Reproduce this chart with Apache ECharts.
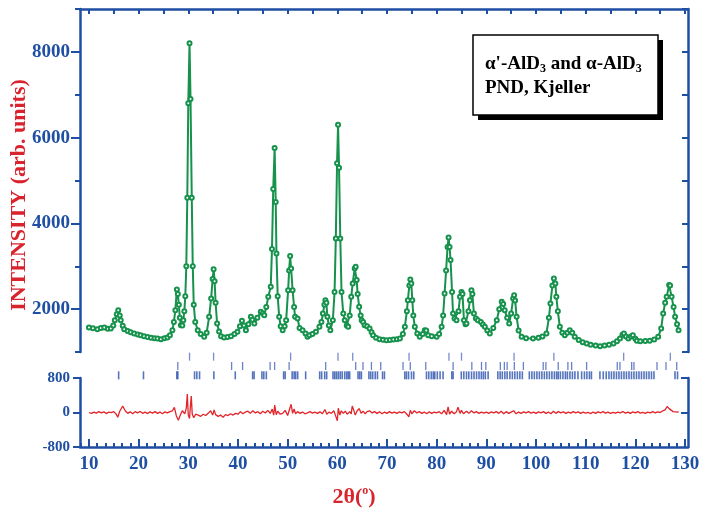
<!DOCTYPE html>
<html><head><meta charset="utf-8">
<script src="https://cdn.jsdelivr.net/npm/echarts@6/dist/echarts.min.js"></script>
<style>html,body{margin:0;padding:0;background:#fff}#c{width:706px;height:516px}</style>
</head><body><div id="c"></div>
<script>
// ---------- data ----------
const obsTheta = [10.0,10.8,11.7,12.4,13.1,13.8,14.4,14.9,15.2,15.6,15.9,16.2,16.4,16.8,17.1,17.8,18.4,19.1,19.8,20.4,21.1,21.8,22.5,23.2,23.8,24.5,25.2,25.8,26.3,26.8,27.1,27.4,27.7,27.9,28.1,28.3,28.5,28.8,29.0,29.2,29.4,29.6,29.8,30.0,30.25,30.45,30.7,30.9,31.1,31.4,31.9,32.5,33.2,33.7,34.2,34.6,34.9,35.1,35.3,35.5,35.8,36.2,36.6,37.2,37.9,38.6,39.3,39.9,40.4,40.8,41.2,41.6,42.1,42.6,42.9,43.3,43.9,44.6,45.0,45.3,45.7,46.1,46.6,46.85,47.1,47.38,47.6,47.75,48.0,48.3,48.6,49.0,49.4,49.7,50.1,50.3,50.5,50.7,51.0,51.3,51.5,52.0,52.4,53.0,53.6,54.0,54.4,55.0,55.7,56.4,56.8,57.1,57.4,57.6,57.8,58.0,58.3,58.6,59.1,59.45,59.7,59.95,60.15,60.35,60.6,60.85,61.2,61.5,61.9,62.2,62.5,62.8,63.1,63.5,63.7,63.9,64.1,64.4,64.7,64.9,65.2,65.5,66.0,66.5,66.9,67.2,67.8,68.5,69.2,69.9,70.6,71.3,72.0,72.6,73.2,73.6,74.0,74.2,74.5,74.7,74.9,75.1,75.3,75.6,76.1,76.6,77.2,77.6,77.9,78.3,79.0,80.0,80.5,81.0,81.3,81.6,81.9,82.2,82.4,82.6,82.8,83.1,83.3,83.6,84.0,84.4,84.7,85.0,85.2,85.5,85.8,86.0,86.4,86.7,87.0,87.2,87.5,87.9,88.3,88.9,89.3,89.7,90.2,90.7,91.4,92.1,92.6,93.1,93.4,93.7,94.2,94.6,95.0,95.4,95.6,95.8,96.1,96.5,97.1,98.0,99.4,100.5,101.3,102.1,102.6,102.9,103.3,103.6,103.9,104.1,104.4,104.8,105.3,105.8,106.3,106.8,107.3,107.8,108.6,109.4,110.2,111.0,112.0,112.9,113.8,114.7,115.6,116.3,116.9,117.4,117.7,118.1,118.6,119.1,119.5,120.0,120.3,121.0,122.0,122.9,123.8,124.6,125.2,125.6,126.0,126.3,126.8,127.0,127.3,127.7,128.0,128.4,128.7];
const obsCounts = [1572,1555,1532,1560,1572,1545,1548,1620,1742,1880,1976,1850,1742,1610,1532,1490,1460,1432,1410,1390,1369,1350,1335,1320,1315,1300,1320,1338,1390,1509,1700,1976,2459,2350,2100,1800,1626,1620,1742,1950,2300,3000,4600,6800,8200,6900,4600,3000,2100,1700,1509,1420,1353,1450,1820,2250,2700,2930,2650,2150,1665,1480,1369,1340,1350,1369,1420,1470,1600,1726,1620,1509,1650,1820,1750,1665,1800,1936,1900,1858,2050,2287,2520,3400,4800,5760,4500,3300,2300,1820,1600,1509,1600,1742,2443,2900,3237,2950,2443,2050,1820,1781,1560,1509,1430,1353,1392,1420,1470,1587,1700,1898,2100,2209,2150,1820,1620,1509,1742,2400,3650,5400,6300,5300,3650,2400,1900,1742,1620,1587,1850,2287,2600,2950,2990,2680,2350,2053,1850,1742,1700,1626,1600,1548,1460,1392,1330,1300,1285,1276,1280,1290,1300,1315,1420,1587,1950,2209,2550,2692,2600,2209,1850,1587,1430,1353,1420,1509,1500,1392,1370,1353,1420,1587,1850,2365,2900,3450,3670,3450,3143,2400,1898,1780,1742,1950,2287,2400,2350,1742,1650,1665,1950,2209,2443,2350,1898,1780,1742,1700,1640,1587,1500,1432,1560,1742,2000,2170,2120,1976,1800,1665,1900,2248,2326,2200,1820,1500,1353,1320,1315,1330,1360,1432,1800,2132,2550,2716,2600,2287,1950,1587,1450,1392,1450,1509,1450,1353,1280,1230,1198,1170,1150,1135,1150,1170,1198,1250,1315,1400,1432,1360,1315,1360,1392,1310,1260,1250,1255,1260,1290,1353,1550,1898,2150,2287,2560,2550,2287,2050,1820,1650,1509];

const diffTheta = [10,10.5,11,11.5,12,12.5,13,13.5,14,14.5,15,15.5,15.8,16.2,16.8,17.3,17.8,18.3,18.8,19.3,19.8,20.3,20.8,21.3,21.8,22.3,22.8,23.3,23.8,24.3,24.8,25.3,25.8,26.3,26.8,27.2,27.6,28.0,28.4,28.8,29.3,29.6,29.8,30.0,30.25,30.45,30.6,30.8,31.1,31.5,32.0,32.5,33.0,33.5,34.0,34.5,34.9,35.2,35.5,36.0,36.5,37.0,37.5,38.0,38.5,39.0,39.5,40.0,40.5,41.0,41.5,42.0,42.5,43.0,43.5,44.0,44.5,45.0,45.5,46.0,46.5,46.9,47.2,47.4,47.7,48.0,48.5,49.0,49.5,50.0,50.4,50.7,51.0,51.3,51.6,52.0,52.5,53.0,53.5,54.0,54.5,55.0,55.5,56.0,56.5,57.0,57.5,57.9,58.3,58.8,59.3,59.7,60.0,60.2,60.5,60.8,61.2,61.6,62.0,62.5,62.8,63.0,63.3,63.6,64.0,64.4,64.8,65.2,65.6,66.0,66.5,67.0,67.5,68.0,68.5,69.0,69.5,70.0,70.5,71.0,71.5,72.0,72.5,73.0,73.5,74.0,74.4,74.7,75.0,75.5,76.0,76.5,77.0,77.5,78.0,78.5,79.0,79.5,80.0,80.5,81.0,81.5,82.0,82.3,82.6,83.0,83.5,84.0,84.3,84.7,85.0,85.4,86.0,86.5,87.0,87.5,88.0,88.5,89.0,89.5,90.0,90.5,91.0,91.5,92.0,92.5,93.0,93.5,94.0,94.5,95.0,95.5,96.0,96.5,97.0,97.5,98.0,98.5,99.0,99.5,100.0,100.5,101.0,101.5,102.0,102.5,103.0,103.5,104.0,104.5,105.0,105.5,106.0,106.5,107.0,107.5,108.0,108.5,109.0,109.5,110.0,110.5,111.0,111.5,112.0,112.5,113.0,113.5,114.0,114.5,115.0,115.5,116.0,116.5,117.0,117.5,118.0,118.5,119.0,119.5,120.0,120.5,121.0,121.5,122.0,122.5,123.0,123.5,124.0,124.5,125.0,125.5,126.0,126.4,126.8,127.2,127.6,128.0,128.5,128.7];
const diffCounts = [0,-20,10,-15,20,-10,15,-25,10,-5,20,-40,-110,30,150,40,-20,15,-30,20,-10,25,-20,10,-25,15,-15,20,-20,10,-30,15,-10,20,40,120,-80,-180,-60,40,-30,100,430,-60,-140,180,380,-40,-120,-40,-60,-90,-40,-70,-20,40,-60,60,-50,-90,-60,-110,-50,-70,-30,-60,-20,-40,20,-30,10,30,-20,40,-10,20,-30,30,-10,50,-20,80,-60,170,-50,30,-40,-20,50,-70,-30,190,-20,80,-30,20,-20,10,-30,-10,20,-15,10,-20,15,-30,70,-40,10,-20,40,-90,-190,100,-60,40,-20,30,-40,20,-30,150,60,-60,40,90,-20,30,-30,20,40,-10,20,-20,15,-30,10,-20,20,-15,10,-20,15,-10,20,-40,-100,50,-30,40,-10,20,-20,10,-30,15,-20,10,-10,20,-30,50,-50,130,-40,30,-30,20,120,-20,50,-30,30,-20,40,-10,20,-20,10,-15,10,-20,15,-10,20,-20,30,-30,20,-20,10,40,-30,10,-20,15,-10,20,-15,10,-20,15,-10,20,-20,10,-30,30,-20,20,-10,15,-20,10,-15,20,-10,15,-20,10,-15,5,-25,10,-20,15,-10,20,-15,10,-20,5,-15,10,-10,25,-15,10,-20,15,-10,20,-15,5,-20,10,-10,20,-10,15,0,40,60,140,90,130,20,40,10,20];

const braggRow1 = [30.25,35.09,50.6,60.14,63.1,74.44,82.48,85.0,95.58,103.6,117.65,127.04];
const braggRow2 = [27.89,38.72,40.93,46.47,47.38,50.30,57.66,63.70,65.17,66.87,68.74,73.23,74.69,77.81,83.31,87.08,89.03,89.90,92.82,93.63,94.19,95.64,97.46,101.45,101.99,104.47,106.42,107.17,110.19,116.36,116.90,119.26,119.72,124.36,126.17,128.33];
const braggRow3 = [15.98,20.98,27.69,27.89,31.26,31.72,32.27,35.15,39.46,42.95,43.25,44.82,45.20,45.71,49.19,49.50,50.91,51.31,51.61,52.02,53.63,56.45,56.85,57.46,57.86,59.13,59.47,59.81,60.18,60.58,60.98,61.49,61.89,62.19,62.49,64.17,64.51,64.85,66.36,66.73,67.13,67.63,68.08,69.10,69.49,73.58,73.92,74.34,74.93,75.39,77.95,78.41,78.92,79.32,79.62,80.13,80.69,81.29,83.05,83.31,84.96,85.47,86.01,86.47,87.02,87.52,88.03,88.53,88.99,89.40,89.80,90.36,92.32,92.78,93.22,93.73,94.19,94.74,95.24,95.74,96.25,96.75,97.25,98.66,99.17,99.67,100.18,100.68,101.18,101.69,102.19,102.70,103.20,103.70,104.15,104.47,104.91,105.42,105.92,106.32,106.83,107.33,107.83,108.44,109.18,109.75,110.25,110.76,111.16,112.87,113.54,114.14,114.69,115.19,115.69,116.20,116.70,117.20,117.71,118.21,118.72,119.22,119.72,120.23,120.73,121.23,121.74,122.24,122.75,123.25,123.75,127.98,128.49];

const xTickLabels = [10,20,30,40,50,60,70,80,90,100,110,120,130];
const yTickLabels = [2000,4000,6000,8000];
const yMinorTicks = [1000,2000,3000,4000,5000,6000,7000,8000,9000];
const diffTickLabels = [-800,0,800];

// ---------- styling ----------
const BLUE = '#1f4fa2', GREEN = '#16924c', RED = '#e2252b', TITLE_RED = '#d9232d';
const FONT = '"Liberation Serif","Times New Roman",serif';
const XMIN = 8.2, XMAX = 130.6;

const xMinorTicks = [];
for (let m = 0; m <= 120; m += 10) for (let k = 1; k <= 5; k++) {
  const v = m + k * 10 / 6; if (v > XMIN && v < XMAX) xMinorTicks.push(v);
}
const xTopTicks = [];
for (let v = 10; v <= 130; v += 5) xTopTicks.push(v);

const G0 = {left: 80, top: 9, width: 608, height: 343};
const G1 = {left: 80, top: 378, width: 608, height: 69};
const G2 = {left: 80, top: 352, width: 608, height: 28};

const axLine = {show: true, onZero: false, lineStyle: {color: BLUE, width: 2.5}};
const tickStyle = {color: BLUE, width: 2};
const plain = v => String(v);
const lblStyle = {color: BLUE, fontFamily: FONT, fontWeight: 'bold', formatter: plain};

const chart = echarts.init(document.getElementById('c'), null, {renderer: 'canvas'});
chart.setOption({
  animation: false,
  backgroundColor: '#fff',
  grid: [G0, G1, G2, Object.assign({}, G1), Object.assign({}, G0)],
  xAxis: [
    {gridIndex: 0, type: 'value', min: XMIN, max: XMAX, position: 'top', axisLine: axLine,
     axisTick: {show: true, inside: true, length: 5, customValues: xTopTicks, lineStyle: tickStyle},
     axisLabel: {show: false}, splitLine: {show: false}},
    {gridIndex: 1, type: 'value', min: XMIN, max: XMAX, position: 'bottom', axisLine: axLine,
     axisTick: {show: true, inside: true, length: 8, customValues: xTickLabels, lineStyle: tickStyle},
     axisLabel: Object.assign({customValues: xTickLabels, fontSize: 19, margin: 8}, lblStyle),
     splitLine: {show: false}},
    {gridIndex: 2, type: 'value', min: XMIN, max: XMAX, show: false},
    {gridIndex: 3, type: 'value', min: XMIN, max: XMAX, position: 'bottom', axisLine: {show: false, onZero: false},
     axisTick: {show: true, inside: true, length: 4, customValues: xMinorTicks, lineStyle: tickStyle},
     axisLabel: {show: false}, splitLine: {show: false}},
    {gridIndex: 4, type: 'value', min: XMIN, max: XMAX, show: false}
  ],
  yAxis: [
    {gridIndex: 0, type: 'value', min: 1000, max: 9000, position: 'left', axisLine: axLine,
     axisTick: {show: true, inside: false, length: 5, customValues: yMinorTicks, lineStyle: tickStyle},
     axisLabel: Object.assign({customValues: yTickLabels, fontSize: 19, margin: 10}, lblStyle),
     splitLine: {show: false}},
    {gridIndex: 0, type: 'value', min: 1000, max: 9000, position: 'right', axisLine: axLine,
     axisTick: {show: true, inside: true, length: 6, customValues: yMinorTicks, lineStyle: tickStyle},
     axisLabel: {show: false}, splitLine: {show: false}},
    {gridIndex: 1, type: 'value', min: -800, max: 800, position: 'left', axisLine: axLine,
     axisTick: {show: true, inside: false, length: 7, customValues: diffTickLabels, lineStyle: tickStyle},
     axisLabel: Object.assign({customValues: diffTickLabels, fontSize: 15, margin: 10}, lblStyle),
     splitLine: {show: false}},
    {gridIndex: 1, type: 'value', min: -800, max: 800, position: 'right', axisLine: axLine,
     axisTick: {show: true, inside: true, length: 7, customValues: [0, 800], lineStyle: tickStyle},
     axisLabel: {show: false}, splitLine: {show: false}},
    {gridIndex: 2, type: 'value', min: 0, max: 3, show: false},
    {gridIndex: 3, type: 'value', min: -800, max: 800, show: false},
    {gridIndex: 4, type: 'value', min: 1000, max: 9000, position: 'left', axisLine: {show: false, onZero: false},
     axisTick: {show: true, inside: false, length: 9, customValues: yTickLabels, lineStyle: tickStyle},
     axisLabel: {show: false}, splitLine: {show: false}}
  ],
  series: [
    {type: 'line', xAxisIndex: 0, yAxisIndex: 0,
     data: obsTheta.map((t, i) => [t, obsCounts[i]]),
     symbol: 'emptyCircle', symbolSize: 4, showSymbol: true,
     lineStyle: {color: GREEN, width: 2},
     itemStyle: {color: GREEN, borderColor: GREEN, borderWidth: 1}, z: 3},
    {type: 'line', xAxisIndex: 1, yAxisIndex: 2,
     data: diffTheta.map((t, i) => [t, diffCounts[i]]),
     symbol: 'none', lineStyle: {color: RED, width: 1.3}, z: 3},
    {type: 'scatter', xAxisIndex: 2, yAxisIndex: 4, data: braggRow1.map(t => [t, 2.5]),
     symbol: 'rect', symbolSize: [1.3, 8], itemStyle: {color: '#5b6fc2'}},
    {type: 'scatter', xAxisIndex: 2, yAxisIndex: 4, data: braggRow2.map(t => [t, 1.5]),
     symbol: 'rect', symbolSize: [1.3, 8], itemStyle: {color: '#4561bb'}},
    {type: 'scatter', xAxisIndex: 2, yAxisIndex: 4, data: braggRow3.map(t => [t, 0.5]),
     symbol: 'rect', symbolSize: [1.6, 8], itemStyle: {color: '#2c52ad'}}
  ],
  graphic: [
    {type: 'text', x: 19, y: 195, rotation: Math.PI / 2, z: 10,
     style: {text: 'INTENSITY (arb. units)', fill: TITLE_RED, font: 'bold 22px ' + FONT,
             align: 'center', verticalAlign: 'middle'}},
    {type: 'text', x: 354, y: 497, z: 10,
     style: {text: '{m|2θ(}{s|o}{m|)}', align: 'center', verticalAlign: 'middle',
             rich: {m: {fill: TITLE_RED, font: 'bold 22px ' + FONT, lineHeight: 24},
                    s: {fill: TITLE_RED, font: 'bold 12px ' + FONT, verticalAlign: 'top', lineHeight: 12}}}},
    {type: 'rect', z: 10, shape: {x: 478, y: 40, width: 185, height: 80}, style: {fill: '#000'}},
    {type: 'rect', z: 11, shape: {x: 473, y: 35, width: 185, height: 80},
     style: {fill: '#fff', stroke: '#000', lineWidth: 1.5}},
    {type: 'text', x: 485, y: 64, z: 12,
     style: {text: "{m|α'-AlD}{s|3}{m| and α-AlD}{s|3}", align: 'left', verticalAlign: 'middle',
             rich: {m: {fill: '#000', font: 'bold 19px ' + FONT, lineHeight: 22},
                    s: {fill: '#000', font: 'bold 12px ' + FONT, verticalAlign: 'bottom', lineHeight: 10}}}},
    {type: 'text', x: 485, y: 88, z: 12,
     style: {text: 'PND, Kjeller', fill: '#000', font: 'bold 19px ' + FONT, align: 'left', verticalAlign: 'middle'}}
  ]
});
</script>
</body></html>
